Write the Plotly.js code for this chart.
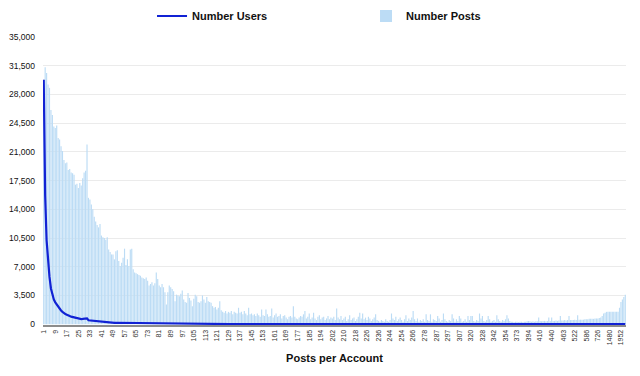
<!DOCTYPE html>
<html>
<head>
<meta charset="utf-8">
<script src="https://cdn.plot.ly/plotly-3.0.1.min.js"></script>
<style>html,body{margin:0;padding:0;background:#fff;}#chart{width:640px;height:376px;}</style>
</head>
<body>
<div id="chart"></div>
<script>
// Tick labels: every 8th "posts per account" category
const postLabels = ["1","9","17","25","33","41","49","57","65","73","81","89","97","105","113","121","129","137","145","153","161","169","177","185","194","202","210","218","226","236","244","254","266","278","287","297","307","320","328","342","354","373","394","416","440","463","522","586","726","1480","1952"];

// Number of posts per category (bars)
const numberPosts = [
29800,31300,30600,29200,28800,26100,25500,24100,23900,24200,
22700,22500,21700,21100,20000,19600,19700,18800,18900,18500,
18400,18200,17000,17100,16600,17200,16900,17800,18500,18700,
21900,15400,15200,14600,14000,13100,12500,12100,11800,12200,
10800,10600,10500,10300,10600,9100,8800,8500,8500,7900,
8900,9000,7700,7100,7500,8100,9200,7200,7900,7100,
9100,9200,6700,6300,6200,6100,6000,5900,5700,5600,
5500,5700,5300,4700,4900,5100,4700,5000,6300,5500,
4700,4500,4900,4500,3900,2400,3900,4700,4500,4300,
4000,2800,3600,3500,3400,3700,4100,3000,2700,2600,
3800,3200,2900,2200,3100,3600,3400,2700,2600,2800,
3500,3000,2600,3300,2800,2700,2600,2200,2000,2100,
1800,2000,2800,1700,1500,1400,1600,1300,1500,1400,
1600,1200,1500,1400,1300,2000,1400,1500,1200,1600,
1300,1100,2000,1200,1300,1100,1200,1000,1300,1100,
900,1800,1100,1000,1800,1200,900,1000,1900,800,
1100,1300,900,1000,1200,700,1000,1100,800,600,
900,1000,800,2200,900,700,600,800,1000,900,
1200,1600,700,900,1300,600,800,1400,700,500,
900,1100,600,800,900,500,700,1000,600,800,
700,900,500,1900,800,600,1000,500,700,900,
400,600,1100,500,700,800,400,600,900,1400,
700,1300,600,800,500,900,700,400,600,800,
1200,500,400,300,500,400,300,600,400,300,
500,1300,700,500,900,400,600,800,500,300,
600,1100,400,700,500,800,1600,600,400,700,
300,500,400,600,300,1200,500,400,1200,300,
600,500,400,1000,700,300,500,1300,600,400,
300,500,400,1200,700,300,600,400,1000,700,
300,400,600,300,1000,500,1000,1000,400,300,
500,400,1300,700,1000,400,300,500,1000,600,
300,400,500,300,1100,600,400,300,500,400,
600,1100,700,400,300,300,250,300,300,250,
300,300,250,300,300,350,400,350,300,350,
300,350,350,800,400,350,400,400,350,400,
800,400,800,400,400,450,400,450,1000,450,
450,500,450,500,1000,500,500,500,550,500,
1100,550,550,550,550,600,600,600,650,650,
650,650,700,700,700,750,800,1000,1300,1400,
1500,1500,1500,1500,1500,1500,1500,1500,1500,2000,
2700,3000,3300,3600];

// Number of users per category (line)
const numberUsers = [
29800,15650,10200,7300,5760,4350,3640,3010,2660,2420,
2060,1870,1670,1510,1330,1230,1160,1040,995,925,
876,827,739,712,664,662,626,636,638,623,
706,481,461,429,400,364,338,318,303,305,
263,252,244,234,236,198,187,177,173,158,
175,173,145,131,136,145,161,124,134,118,
149,148,106,98,95,92,90,87,83,80,
77,79,73,64,65,67,61,64,80,69,
58,55,59,54,46,28,45,53,50,48,
44,31,39,37,36,38,42,31,27,26,
38,31,28,21,29,34,32,25,24,25,
32,27,23,29,24,23,22,19,17,17,
15,16,23,14,12,11,13,10,12,11,
12,9,11,10,10,15,10,11,9,11,
9,8,14,8,9,8,8,7,9,7,
6,12,7,7,12,8,6,6,12,5,
7,8,6,6,7,4,6,7,5,4,
5,6,5,13,5,4,4,5,6,5,
7,9,4,5,7,3,4,8,4,3,
5,6,3,4,5,3,4,5,3,4,
3,4,2,9,4,3,5,2,3,4,
2,3,5,2,3,4,2,3,4,6,
3,6,3,4,2,4,3,2,3,3,
5,2,2,1,2,2,1,3,2,1,
2,5,3,2,4,2,2,3,2,1,
2,4,2,3,2,3,6,2,2,3,
1,2,2,2,1,4,2,2,4,1,
2,2,1,4,2,1,2,4,2,1,
1,2,1,4,2,1,2,1,3,2,
1,1,2,1,3,2,3,3,1,1,
2,1,4,2,3,1,1,2,3,2,
1,1,2,1,3,2,1,1,2,1,
2,3,2,1,1,1,1,1,1,1,
1,1,1,1,1,1,1,1,1,1,
1,1,1,2,1,1,1,1,1,1,
2,1,2,1,1,1,1,1,2,1,
1,1,1,1,2,1,1,1,1,1,
2,1,1,1,1,1,1,1,1,1,
1,1,1,1,1,1,1,1,1,1,
1,1,1,1,1,1,1,1,1,1,
1,1,1,2];

const tickStep = 8;
const tickPositions = postLabels.map((_, k) => k * tickStep);

const FONT = "'Liberation Sans', Arial, Helvetica, sans-serif";

const traces = [
  {
    type: 'bar',
    name: 'Number Posts',
    y: numberPosts,
    marker: {color: '#bcdcf5', line: {width: 0}},
    legendrank: 2,
    hoverinfo: 'skip'
  },
  {
    type: 'scatter',
    mode: 'lines',
    name: 'Number Users',
    y: numberUsers,
    line: {color: '#1122d4', width: 2.2},
    legendrank: 1,
    hoverinfo: 'skip'
  }
];

const layout = {
  width: 640,
  height: 376,
  margin: {l: 43, r: 14, t: 37, b: 51, pad: 0, autoexpand: false},
  paper_bgcolor: '#fff',
  plot_bgcolor: '#fff',
  font: {family: FONT, color: '#222'},
  bargap: 0.2,
  showlegend: true,
  legend: {
    orientation: 'h',
    x: 0.187, xanchor: 'left',
    y: 1.073, yanchor: 'middle',
    entrywidth: 169,
    font: {family: FONT, size: 11, color: '#111', weight: 'bold'},
    bgcolor: 'rgba(0,0,0,0)'
  },
  xaxis: {
    range: [-0.5, numberPosts.length - 0.5],
    tickmode: 'array',
    tickvals: tickPositions,
    ticktext: postLabels,
    tickangle: -90,
    tickfont: {family: FONT, size: 7, color: '#333'},
    ticks: '',
    showgrid: false,
    zeroline: false,
    showline: true,
    linecolor: '#8c8c8c',
    linewidth: 2,
    automargin: false,
    title: {text: 'Posts per Account', font: {family: FONT, size: 11, color: '#111', weight: 'bold'}, standoff: 10}
  },
  yaxis: {
    range: [-100, 35000],
    tickmode: 'linear',
    tick0: 0,
    dtick: 3500,
    tickformat: ',d',
    tickfont: {family: FONT, size: 8.5, color: '#111'},
    ticklabelstandoff: 7,
    showgrid: true,
    gridcolor: '#ebebeb',
    gridwidth: 1,
    zeroline: false,
    showline: false,
    ticks: '',
    automargin: false
  }
};

Plotly.newPlot('chart', traces, layout, {displayModeBar: false, staticPlot: true});
</script>
</body>
</html>
